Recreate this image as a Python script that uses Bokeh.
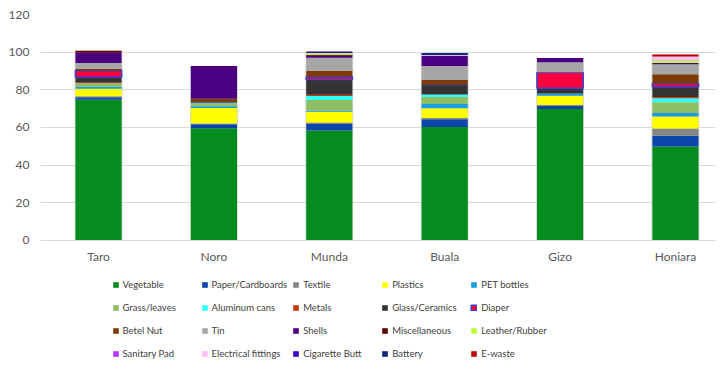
from bokeh.plotting import figure
from bokeh.models import ColumnDataSource, Range1d, FixedTicker, Legend, LegendItem
from bokeh.embed import file_html
from bokeh.resources import INLINE

sites = ["Taro", "Noro", "Munda", "Buala", "Gizo", "Honiara"]

categories = ["Vegetable", "Paper/Cardboards", "Textile", "Plastics", "PET bottles",
              "Grass/leaves", "Aluminum cans", "Metals", "Glass/Ceramics", "Diaper",
              "Betel Nut", "Tin", "Shells", "Miscellaneous", "Leather/Rubber",
              "Sanitary Pad", "Electrical fittings", "Cigarette Butt", "Battery", "E-waste"]

colors = ["#048C1F", "#0D46AB", "#868686", "#FFFF00", "#1A9BE6",
          "#8CBF64", "#33FFFF", "#C0390B", "#333333", "#FF0040",
          "#7B3A06", "#A6A6A6", "#4B0082", "#5C0000", "#BFFF3F",
          "#B833FF", "#FFBFF2", "#3A00CC", "#0A2A80", "#C00000"]

# values per site, order: Taro, Noro, Munda, Buala, Gizo, Honiara
vegetable = [74.8, 59.6, 58.4, 60.2, 69.8, 49.9]
paper = [1.3, 2.1, 3.5, 4.2, 1.8, 5.7]
textile = [0.5, 0.4, 0.8, 0.7, 0.3, 3.9]
plastics = [4.0, 8.3, 5.7, 5.1, 5.0, 6.4]
pet = [1.0, 0.9, 0.5, 2.3, 1.1, 1.8]
grass = [1.6, 1.8, 5.7, 3.7, 0.0, 5.7]
aluminum = [0.3, 0.4, 2.1, 1.3, 0.0, 2.1]
metals = [0.7, 0.0, 0.7, 0.0, 0.0, 0.7]
glass = [2.5, 0.0, 8.1, 5.2, 2.8, 5.3]
diaper = [3.5, 0.0, 1.4, 0.0, 8.5, 1.8]
betel = [0.8, 1.8, 3.2, 2.7, 0.0, 5.0]
tin = [3.2, 0.0, 7.0, 7.3, 5.3, 5.3]
shells = [5.5, 17.4, 1.0, 5.4, 2.3, 0.7]
misc = [1.1, 0.0, 0.5, 0.0, 0.0, 0.0]
leather = [0.0, 0.0, 0.9, 0.0, 0.0, 1.1]
sanitary = [0.0, 0.0, 0.0, 0.0, 0.0, 0.2]
electrical = [0.0, 0.0, 0.0, 0.4, 0.0, 2.1]
cigarette = [0.0, 0.0, 0.8, 0.0, 0.0, 0.0]
battery = [0.0, 0.0, 0.0, 1.1, 0.0, 0.0]
ewaste = [0.0, 0.0, 0.0, 0.0, 0.0, 1.0]

y_ticks = [0, 20, 40, 60, 80, 100, 120]

series = [vegetable, paper, textile, plastics, pet, grass, aluminum, metals, glass,
          diaper, betel, tin, shells, misc, leather, sanitary, electrical, cigarette,
          battery, ewaste]

keys = ["s%d" % i for i in range(len(categories))]
data = {"x": list(range(len(sites)))}
for k, s in zip(keys, series):
    data[k] = s
data["total"] = [sum(s[i] for s in series) for i in range(len(sites))]
source = ColumnDataSource(data)

# frame spans the whole lower area so that the legend (drawn in the frame) is not clipped
p = figure(width=725, height=370, output_backend="svg", toolbar_location=None,
           x_range=Range1d(-0.503, 5.347), y_range=Range1d(-69.03, 120),
           min_border_left=40, min_border_right=10, min_border_top=14,
           min_border_bottom=0, background_fill_color="white",
           border_fill_color="white", outline_line_color=None)

# soft shadow behind the bars
p.vbar(x="x", top="total", width=0.415, source=source, fill_color="#c8c8c8",
       fill_alpha=0.7, line_color=None)

line_colors = ["#3F3FC8" if c == "Diaper" else colors[i] for i, c in enumerate(categories)]
line_alphas = [1.0 if c == "Diaper" else 0.0 for c in categories]
line_widths = [1.6 if c == "Diaper" else 0.5 for c in categories]

renderers = p.vbar_stack(keys, x="x", width=0.40, source=source, fill_color=colors,
                         line_color=line_colors, line_alpha=line_alphas,
                         line_width=line_widths)

items = [LegendItem(label=c, renderers=[r]) for c, r in zip(categories, renderers)]
legend = Legend(items=items, orientation="horizontal", ncols=5,
                location=(71.5, 8), padding=0, margin=0, spacing=5,
                glyph_width=7, glyph_height=7, label_standoff=4,
                label_width=73, label_height=18,
                label_text_font="Lato", label_text_font_size="9.5px",
                label_text_color="#404040",
                border_line_color=None, background_fill_alpha=0)
p.add_layout(legend)

p.xaxis.fixed_location = 0
p.xaxis.ticker = FixedTicker(ticks=data["x"])
p.xaxis.major_label_overrides = {i: s for i, s in enumerate(sites)}
p.xaxis.major_tick_line_color = None
p.xaxis.minor_tick_line_color = None
p.xaxis.axis_line_color = "#d9d9d9"
p.xaxis.major_label_standoff = 3
p.xaxis.major_label_text_font = "Lato"
p.xaxis.major_label_text_font_size = "12px"
p.xaxis.major_label_text_color = "#595959"

p.yaxis.ticker = FixedTicker(ticks=y_ticks)
p.yaxis.major_tick_line_color = None
p.yaxis.minor_tick_line_color = None
p.yaxis.axis_line_color = None
p.yaxis.major_label_standoff = 5
p.yaxis.major_label_text_font = "Lato"
p.yaxis.major_label_text_font_size = "12px"
p.yaxis.major_label_text_color = "#595959"

p.xgrid.grid_line_color = None
p.ygrid.grid_line_color = "#d9d9d9"
p.ygrid.grid_line_width = 1

open("out.html", "w").write(file_html(p, INLINE))
